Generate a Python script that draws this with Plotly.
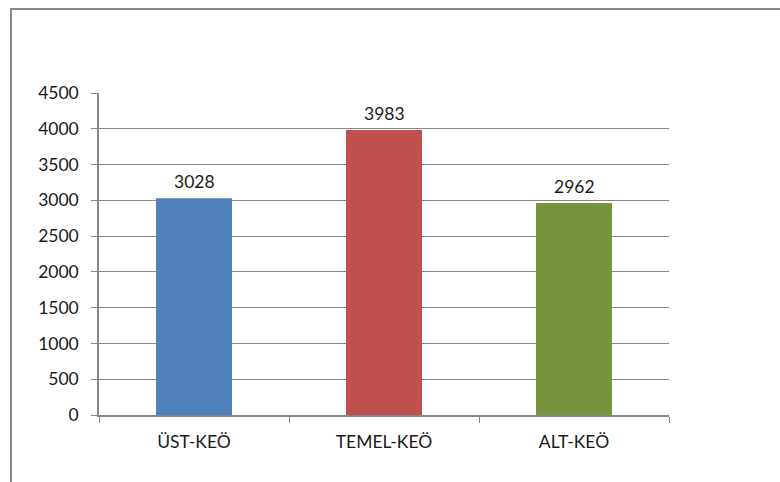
import plotly.graph_objects as go

# Kategoriler ve değerler
categories = ["ÜST-KEÖ", "TEMEL-KEÖ", "ALT-KEÖ"]
values = [3028, 3983, 2962]
bar_colors = ["#4F81BD", "#C0504D", "#77933C"]
y_ticks = [0, 500, 1000, 1500, 2000, 2500, 3000, 3500, 4000, 4500]

axis_gray = "#868686"
text_color = "#1a1a1a"
font_family = "Lato, 'Open Sans', sans-serif"
font_size = 17.5

fig = go.Figure(
    go.Bar(
        x=categories,
        y=values,
        marker=dict(color=bar_colors, line=dict(width=0)),
        width=0.4,
        hoverinfo="x+y",
    )
)

# Değer etiketleri, çubukların üstünde
for cat, val in zip(categories, values):
    fig.add_annotation(
        x=cat,
        y=val,
        text=str(val),
        showarrow=False,
        yanchor="bottom",
        yshift=4,
        font=dict(size=font_size, color=text_color, family=font_family),
    )

fig.update_layout(
    width=780,
    height=482,
    margin=dict(l=99, r=111, t=93, b=67),
    paper_bgcolor="white",
    plot_bgcolor="white",
    showlegend=False,
    font=dict(family=font_family, size=font_size, color=text_color),
    shapes=[
        # dış çerçeve (sağ ve alt kenar görünür alanın dışında)
        dict(
            type="rect",
            xref="paper",
            yref="paper",
            x0=(11 - 99) / 570,
            x1=(800 - 99) / 570,
            y0=-0.5,
            y1=(415 - 9) / 322,
            line=dict(color="#878787", width=2),
            fillcolor="rgba(0,0,0,0)",
            layer="below",
        )
    ],
)

fig.update_xaxes(
    type="category",
    tickson="boundaries",
    ticks="outside",
    ticklen=6,
    tickcolor=axis_gray,
    showline=True,
    linecolor=axis_gray,
    linewidth=1.5,
    showgrid=False,
    tickfont=dict(size=font_size),
    ticklabelstandoff=10,
)

fig.update_yaxes(
    range=[0, 4500],
    tickvals=y_ticks,
    ticks="outside",
    ticklen=6,
    tickcolor=axis_gray,
    showline=True,
    linecolor=axis_gray,
    linewidth=1.5,
    showgrid=True,
    gridcolor=axis_gray,
    gridwidth=1.3,
    zeroline=False,
    tickfont=dict(size=font_size),
    ticklabelstandoff=9,
)

fig.write_html("out.html")
